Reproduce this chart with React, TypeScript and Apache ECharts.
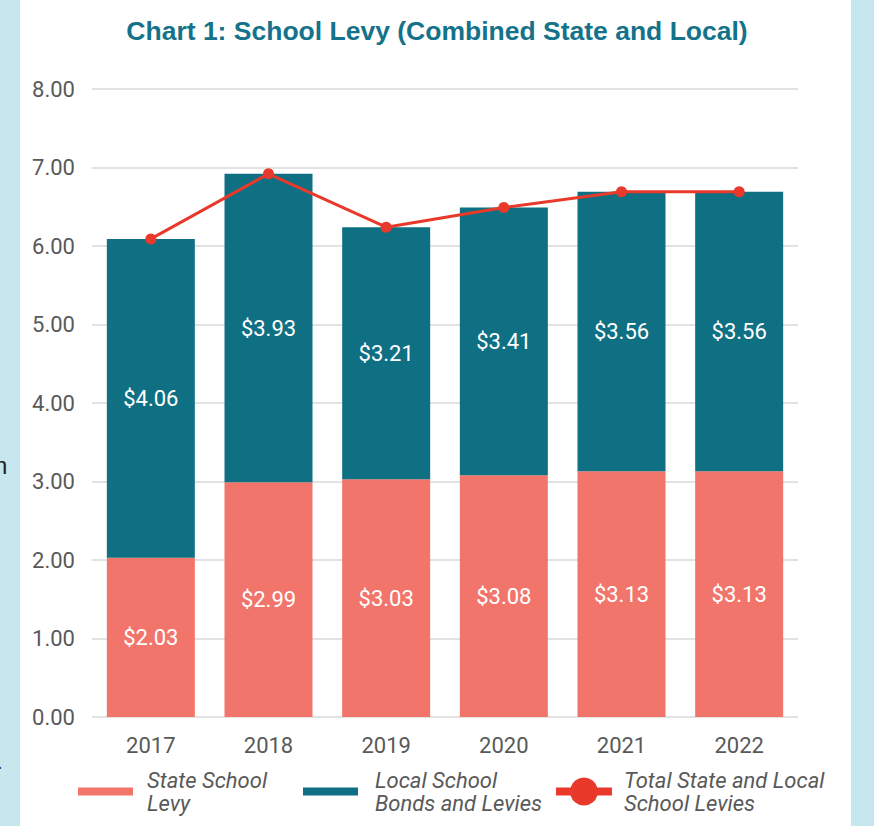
import React, { useEffect, useRef } from "react";
import * as echarts from "echarts";

const years = ["2017", "2018", "2019", "2020", "2021", "2022"];
const stateLevy = [2.03, 2.99, 3.03, 3.08, 3.13, 3.13];
const localLevy = [4.06, 3.93, 3.21, 3.41, 3.56, 3.56];
const totalLevy = [6.09, 6.92, 6.24, 6.49, 6.69, 6.69];
const yTicks = [0, 1, 2, 3, 4, 5, 6, 7, 8];

const NARROW = "Roboto, sans-serif";
const GRAY = "#595959";

export default function App() {
  const ref = useRef<HTMLDivElement>(null);
  useEffect(() => {
    if (!ref.current) return;
    const chart = echarts.init(ref.current, undefined, { renderer: "svg" });
    const labelStyle = {
      show: true,
      position: "inside",
      color: "#ffffff",
      fontFamily: NARROW,
      fontSize: 22,
      formatter: (p: any) => "$" + Number(p.value).toFixed(2),
    };
    const legendText = {
      color: GRAY,
      fontFamily: NARROW,
      fontStyle: "italic",
      fontSize: 22,
      lineHeight: 23,
      padding: [13, 0, 0, 9],
    };
    chart.setOption({
      animation: false,
      backgroundColor: "#ffffff",
      title: {
        text: "Chart 1: School Levy (Combined State and Local)",
        left: "center",
        top: 12,
        textStyle: {
          fontFamily: "Arial, 'Liberation Sans', sans-serif",
          fontWeight: "bold",
          fontSize: 26.5,
          color: "#14728a",
        },
      },
      graphic: [
        { type: "rect", shape: { x: 0, y: 0, width: 20, height: 826 }, style: { fill: "#c7e7ee" }, silent: true },
        { type: "rect", shape: { x: 851, y: 0, width: 23, height: 826 }, style: { fill: "#c7e7ee" }, silent: true },
        { type: "text", x: -6, y: 465, style: { text: "n", fill: "#222", fontSize: 24, fontFamily: "Arial, 'Liberation Sans'", verticalAlign: "middle" }, silent: true },
        { type: "text", x: -3, y: 762, style: { text: ".", fill: "#222", fontSize: 20, fontFamily: "Arial, 'Liberation Sans'", verticalAlign: "middle" }, silent: true },
      ],
      legend: [
        {
          left: 73,
          top: 757,
          itemWidth: 55,
          itemHeight: 8,
          selectedMode: false,
          data: [{ name: "State School\nLevy", icon: "rect" }],
          textStyle: legendText,
        },
        {
          left: 298,
          top: 757,
          itemWidth: 55,
          itemHeight: 8,
          selectedMode: false,
          data: [{ name: "Local School\nBonds and Levies", icon: "rect" }],
          textStyle: { ...legendText, padding: [13, 0, 0, 12] },
        },
        {
          left: 551,
          top: 757,
          itemWidth: 56,
          itemHeight: 28,
          selectedMode: false,
          data: [
            {
              name: "Total State and Local\nSchool Levies",
              icon: "path://M0,10 L14.58,10 A14,14 0 0 1 41.42,10 L56,10 L56,18 L41.42,18 A14,14 0 0 1 14.58,18 L0,18 Z",
            },
          ],
          textStyle: { ...legendText, padding: [13, 0, 0, 7] },
        },
      ],
      grid: { left: 92, right: 76, top: 89, bottom: 109, containLabel: false },
      xAxis: {
        type: "category",
        data: years,
        axisLine: { show: false },
        axisTick: { show: false },
        axisLabel: { color: GRAY, fontFamily: NARROW, fontSize: 22, margin: 17 },
      },
      yAxis: {
        type: "value",
        min: yTicks[0],
        max: yTicks[yTicks.length - 1],
        interval: 1,
        axisLine: { show: false },
        axisTick: { show: false },
        axisLabel: {
          color: GRAY,
          fontFamily: NARROW,
          fontSize: 22,
          margin: 17,
          formatter: (v: number) => v.toFixed(2),
        },
        splitLine: { lineStyle: { color: "#d9d9d9", width: 1.5 } },
      },
      series: [
        {
          name: "State School\nLevy",
          type: "bar",
          stack: "levy",
          data: stateLevy,
          barWidth: 88,
          itemStyle: { color: "#f2756b" },
          label: labelStyle,
        },
        {
          name: "Local School\nBonds and Levies",
          type: "bar",
          stack: "levy",
          data: localLevy,
          barWidth: 88,
          itemStyle: { color: "#0f7083" },
          label: labelStyle,
        },
        {
          name: "Total State and Local\nSchool Levies",
          type: "line",
          data: totalLevy,
          symbol: "circle",
          symbolSize: 11,
          lineStyle: { color: "#e8392a", width: 3 },
          itemStyle: { color: "#e8392a" },
          z: 5,
        },
      ],
    });
    return () => chart.dispose();
  }, []);
  return (
    <div
      ref={ref}
      style={{ position: "absolute", left: 0, top: 0, width: 874, height: 826 }}
    />
  );
}
